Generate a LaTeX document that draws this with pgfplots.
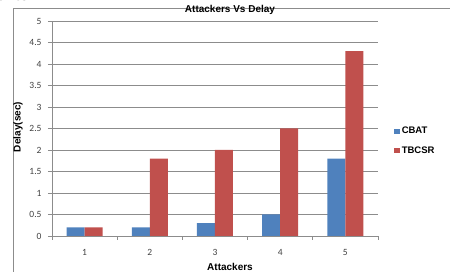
\documentclass[border=0pt]{standalone}
\usepackage{pgfplots}
\pgfplotsset{compat=1.18}
\usepackage{fontspec}
\setmainfont{Liberation Sans}
\newfontfamily\carlito{Carlito}
\newfontfamily\tnr{Liberation Serif}
\definecolor{xlblue}{HTML}{4F81BD}
\definecolor{xlred}{HTML}{C0504D}
\definecolor{gridc}{HTML}{8C8C8C}
\definecolor{tickc}{HTML}{404040}
\begin{document}
\begin{tikzpicture}[x=1pt,y=1pt]
\path (0pt,0pt) rectangle (450pt,272pt);
\node[overlay, anchor=base west, inner sep=0pt, font=\tnr\bfseries\fontsize{17}{17}\selectfont] at (-2pt,271pt) {ares};
\draw[overlay, gridc, line width=0.8pt] (13pt,-5pt) -- (13pt,264pt) -- (455pt,264pt);
\begin{axis}[
  at={(52pt,36pt)}, anchor=south west,
  scale only axis, width=326pt, height=215pt,
  ybar=0pt, bar width=18pt,
  xmin=0.5, xmax=5.5, ymin=0, ymax=5,
  xtick={1,2,3,4,5},
  minor xtick={0.5,1.5,2.5,3.5,4.5,5.5},
  ytick={0,0.5,1,1.5,2,2.5,3,3.5,4,4.5,5},
  yticklabels={0,0.5,1,1.5,2,2.5,3,3.5,4,4.5,5},
  axis x line*=bottom, axis y line*=left,
  axis line style={gridc, line width=0.8pt, -},
  ymajorgrids, grid style={gridc, line width=0.8pt},
  tick align=outside,
  major x tick style={draw=none},
  minor x tick style={gridc, line width=0.8pt},
  minor tick length=4pt,
  y tick style={gridc, line width=0.8pt},
  major tick length=4pt,
  ticklabel style={font=\carlito\fontsize{9.5}{10}\selectfont, text=tickc},
  /pgf/number format/assume math mode=true,
  yticklabel style={xshift=-3pt},
  xticklabel style={yshift=-6pt},
  title={Attackers Vs Delay},
  title style={at={(axis description cs:0.546,1.023)}, anchor=center, font=\bfseries\fontsize{10}{12}\selectfont, inner sep=0pt},
  xlabel={Attackers},
  xlabel style={at={(axis description cs:0.546,-0.142)}, anchor=center, font=\bfseries\fontsize{10}{12}\selectfont, inner sep=0pt},
  ylabel={Delay(sec)},
  ylabel style={at={(axis description cs:-0.104,0.507)}, anchor=center, font=\bfseries\fontsize{10}{12}\selectfont, inner sep=0pt},
  legend style={at={(axis description cs:1.049,0.442)}, anchor=west, draw=none, fill=none,
    font=\bfseries\fontsize{9.5}{11}\selectfont, row sep=7pt, inner sep=0pt,
    /tikz/every even column/.append style={column sep=2pt}},
  legend image code/.code={\fill[#1] (0pt,-2.8pt) rectangle (5.6pt,2.8pt);},
  legend cell align=left,
]
\addplot[fill=xlblue, draw=none] coordinates {(1,0.2) (2,0.2) (3,0.3) (4,0.5) (5,1.8)};
\addplot[fill=xlred, draw=none] coordinates {(1,0.2) (2,1.8) (3,2.0) (4,2.5) (5,4.3)};
\legend{CBAT,TBCSR}
\end{axis}
\end{tikzpicture}
\end{document}
